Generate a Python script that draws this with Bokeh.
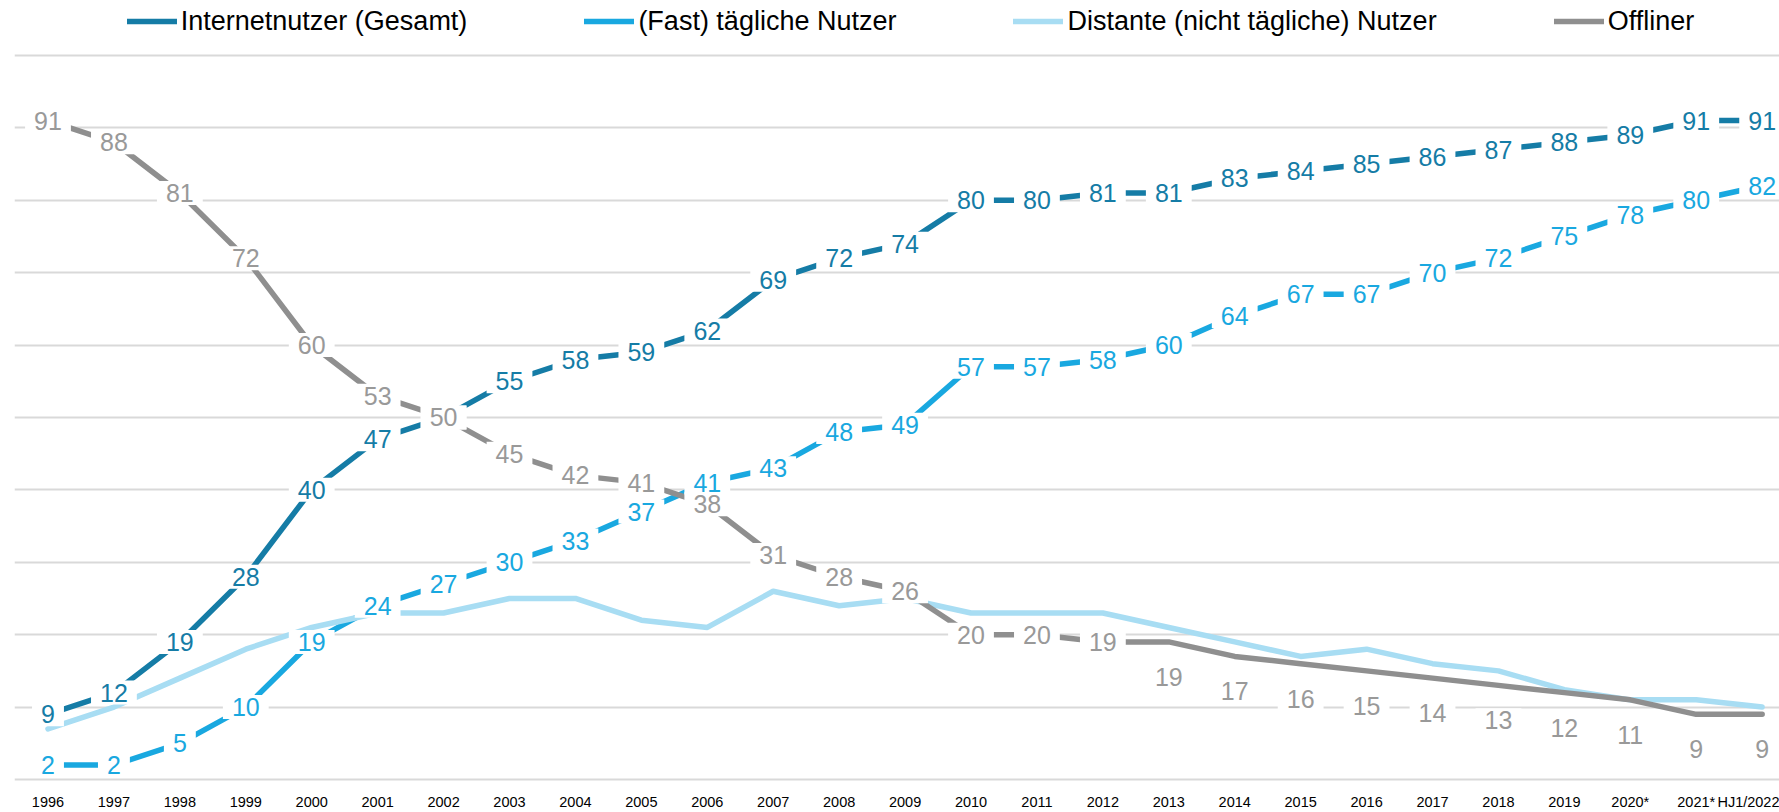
from bokeh.plotting import figure
from bokeh.models import Range1d, FixedTicker, Legend, LegendItem
from bokeh.core.properties import value
from bokeh.embed import file_html
from bokeh.resources import INLINE

years = ["1996", "1997", "1998", "1999", "2000", "2001", "2002", "2003", "2004",
         "2005", "2006", "2007", "2008", "2009", "2010", "2011", "2012", "2013",
         "2014", "2015", "2016", "2017", "2018", "2019", "2020*", "2021*", "HJ1/2022"]

gesamt = [9, 12, 19, 28, 40, 47, 50, 55, 58, 59, 62, 69, 72, 74, 80, 80, 81, 81,
          83, 84, 85, 86, 87, 88, 89, 91, 91]
taeglich = [2, 2, 5, 10, 19, 24, 27, 30, 33, 37, 41, 43, 48, 49, 57, 57, 58, 60,
            64, 67, 67, 70, 72, 75, 78, 80, 82]
distante = [7, 10, 14, 18, 21, 23, 23, 25, 25, 22, 21, 26, 24, 25, 23, 23, 23, 21,
            19, 17, 18, 16, 15, 12.4, 11, 11, 10]
offliner = [91, 88, 81, 72, 60, 53, 50, 45, 42, 41, 38, 31, 28, 26, 20, 20, 19, 19,
            17, 16, 15, 14, 13, 12, 11, 9, 9]

series_names = ["Internetnutzer (Gesamt)", "(Fast) tägliche Nutzer",
                "Distante (nicht tägliche) Nutzer", "Offliner"]
line_colors = ["#157ca6", "#19a8e0", "#a8ddf3", "#8f8f8f"]
label_colors = ["#157ca6", "#19a8e0", None, "#999999"]

x = list(range(len(years)))

p = figure(width=1779, height=812, output_backend="svg", toolbar_location=None,
           x_range=Range1d(-0.508, 26.263), y_range=Range1d(-0.275, 107.58),
           min_border_left=14, min_border_right=0, min_border_top=0,
           min_border_bottom=29)
p.outline_line_color = None
p.background_fill_color = "white"
p.border_fill_color = "white"
p.yaxis.visible = False
p.xgrid.visible = False
p.ygrid.ticker = FixedTicker(ticks=list(range(0, 101, 10)))
p.ygrid.grid_line_color = "#d9d9d9"
p.ygrid.grid_line_width = 2

p.xaxis.ticker = FixedTicker(ticks=x)
p.xaxis.major_label_overrides = {i: y for i, y in enumerate(years)}
p.xaxis.axis_line_color = None
p.xaxis.major_tick_line_color = None
p.xaxis.minor_tick_line_color = None
p.xaxis.major_tick_out = 0
p.xaxis.major_tick_in = 0
p.xaxis.minor_tick_out = 0
p.xaxis.minor_tick_in = 0
p.xaxis.major_label_standoff = 12
p.xaxis.major_label_text_font = "Liberation Sans"
p.xaxis.major_label_text_font_size = "14.5px"
p.xaxis.major_label_text_color = "#000000"

all_series = [gesamt, taeglich, distante, offliner]
renderers = []
for vals, c in zip(all_series, line_colors):
    r = p.line(x, vals, line_color=c, line_width=5.5, line_join="round",
               line_cap="round")
    renderers.append(r)

label_pad = dict(left=9, right=9, top=3, bottom=3)

def add_labels(vals, color, offsets):
    p.text(x=x, y=vals, text=[str(v) for v in vals], y_offset=offsets,
           text_color=color, text_font=value("Liberation Sans"),
           text_font_size="25px", text_align="center", text_baseline="middle",
           background_fill_color="white", padding=label_pad)

add_labels(gesamt, label_colors[0], [0] * len(x))
add_labels(taeglich, label_colors[1], [0] * len(x))
off_offsets = [0 if i < 17 else 35 for i in x]
add_labels(offliner, label_colors[3], off_offsets)

legend = Legend(items=[LegendItem(label=n, renderers=[r])
                       for n, r in zip(series_names, renderers)],
                orientation="horizontal", location=(112.75, 744), spacing=117,
                glyph_width=50, glyph_height=32, label_height=32,
                label_standoff=4, padding=0, margin=0,
                border_line_color=None, background_fill_alpha=0,
                label_text_font="Liberation Sans", label_text_font_size="27px",
                label_text_color="#000000")
p.add_layout(legend)

open("out.html", "w").write(file_html(p, INLINE))
